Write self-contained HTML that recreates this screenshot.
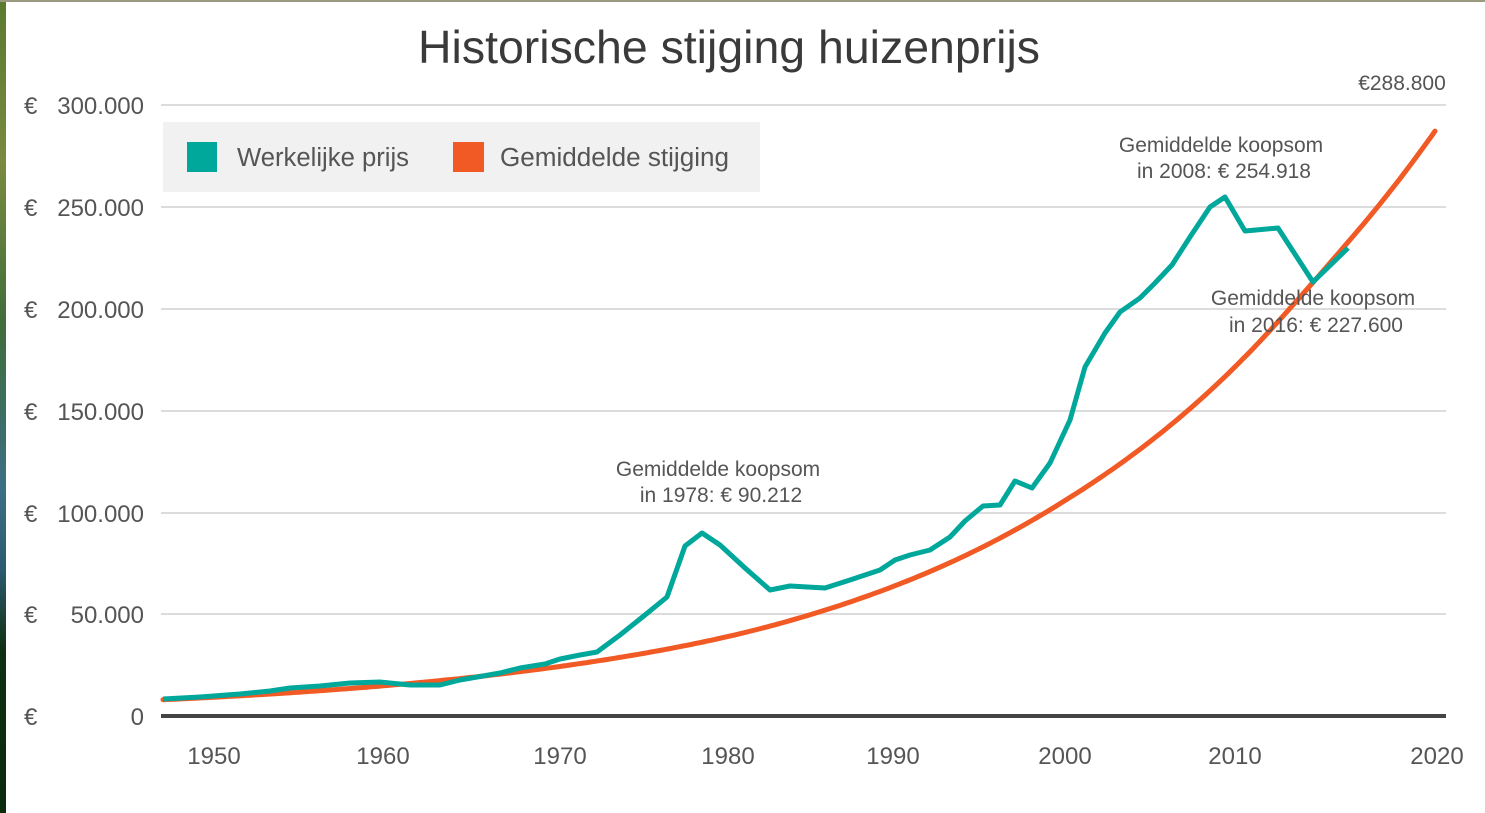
<!DOCTYPE html>
<html><head><meta charset="utf-8"><style>
html,body{margin:0;padding:0;background:#fff;}
body{width:1485px;height:813px;overflow:hidden;position:relative;font-family:"Liberation Sans",sans-serif;}
</style></head><body>
<div style="position:absolute;left:0;top:0;width:6px;height:813px;background:linear-gradient(#5a7a30,#7a8a40 20%,#3f6d3a 40%,#3b6f86 60%,#2c5a70 70%,#0f3010 80%,#0c2a0c)"></div>
<div style="position:absolute;left:0;top:0;width:1485px;height:2px;background:#9a9a80"></div>
<svg width="1485" height="813" style="position:absolute;left:0;top:0" font-family="Liberation Sans, sans-serif">
<text x="729" y="63" font-size="46" fill="#3a3a3a" text-anchor="middle" textLength="622" lengthAdjust="spacingAndGlyphs">Historische stijging huizenprijs</text>
<g stroke="#d0d0d0" stroke-width="1.5">
<line x1="161" x2="1446" y1="105" y2="105"/><line x1="161" x2="1446" y1="207" y2="207"/>
<line x1="161" x2="1446" y1="309" y2="309"/><line x1="161" x2="1446" y1="411" y2="411"/>
<line x1="161" x2="1446" y1="513" y2="513"/><line x1="161" x2="1446" y1="614" y2="614"/>
</g>
<g font-size="24" fill="#555" text-anchor="end">
<text x="144" y="114">300.000</text><text x="144" y="216">250.000</text><text x="144" y="318">200.000</text>
<text x="144" y="420">150.000</text><text x="144" y="522">100.000</text><text x="144" y="623">50.000</text><text x="144" y="725">0</text>
</g>
<g font-size="24" fill="#555">
<text x="24" y="114">€</text><text x="24" y="216">€</text><text x="24" y="318">€</text><text x="24" y="420">€</text><text x="24" y="522">€</text><text x="24" y="623">€</text><text x="24" y="725">€</text>
</g>
<g font-size="24" fill="#555" text-anchor="middle">
<text x="214" y="764">1950</text><text x="383" y="764">1960</text><text x="560" y="764">1970</text><text x="728" y="764">1980</text>
<text x="893" y="764">1990</text><text x="1065" y="764">2000</text><text x="1235" y="764">2010</text><text x="1437" y="764">2020</text>
</g>
<rect x="163" y="122" width="597" height="70" fill="#f1f1f1"/>
<rect x="187" y="142" width="30" height="30" fill="#00a79b"/>
<rect x="453" y="142" width="31" height="30" fill="#f15a24"/>
<text x="237" y="166" font-size="25.5" fill="#555" textLength="172" lengthAdjust="spacingAndGlyphs">Werkelijke prijs</text>
<text x="500" y="166" font-size="25.5" fill="#555" textLength="229" lengthAdjust="spacingAndGlyphs">Gemiddelde stijging</text>
<path id="orange" fill="none" stroke="#f15a24" stroke-width="5" stroke-linecap="round"/>
<polyline fill="none" stroke="#00a79b" stroke-width="5" stroke-linejoin="round" points="163,699 200,697 240,694 270,691 290,688 320,686 350,683 380,682 410,685 440,685 460,680 500,673 520,668 545,664 560,659 580,655 597,652 620,635 645,615 667,597 685,546 702,533 720,545 745,568 770,590 790,586 825,588 850,580 880,570 895,560 910,555 930,550 950,537 965,521 983,506 1000,505 1015,481 1032,488 1050,463 1070,420 1085,367 1105,333 1120,312 1140,298 1155,283 1172,265 1190,237 1210,207 1225,197 1245,231 1278,228 1313,282 1348,248"/>
<line x1="161" x2="1446" y1="716" y2="716" stroke="#444" stroke-width="4"/>
<g font-size="21" fill="#555" text-anchor="middle">
<text x="718" y="476">Gemiddelde koopsom</text><text x="721" y="502">in 1978: € 90.212</text>
<text x="1221" y="152">Gemiddelde koopsom</text><text x="1224" y="178">in 2008: € 254.918</text>
<text x="1313" y="305">Gemiddelde koopsom</text><text x="1316" y="332">in 2016: €  227.600</text>
<text x="1402" y="90">€288.800</text>
</g>
</svg>
<script>
var A=[[163,Math.log(8)],[728,Math.log(39)],[1065,Math.log(106)],[1313,Math.log(214)],[1437,Math.log(288.8)]];
function lv(x){
 // smooth-ish: quadratic fit via piecewise linear then light smoothing
 for(var i=0;i<A.length-1;i++){if(x<=A[i+1][0]){var t=(x-A[i][0])/(A[i+1][0]-A[i][0]);return A[i][1]+t*(A[i+1][1]-A[i][1]);}}
 return A[A.length-1][1];}
function sm(x){var s=0,n=0;for(var k=-40;k<=40;k+=4){var xx=Math.min(1437,Math.max(163,x+k));s+=lv(xx)+(x+k<163||x+k>1437?0:0);n++;}return s/n;}
var d="";for(var x=163;x<=1437;x+=4){var v=(x<203||x>1397)?lv(x):sm(x);var y=716-Math.exp(v)*2.035;d+=(d?"L":"M")+x+","+y.toFixed(1);}
document.getElementById("orange").setAttribute("d",d);
</script>
</body></html>
